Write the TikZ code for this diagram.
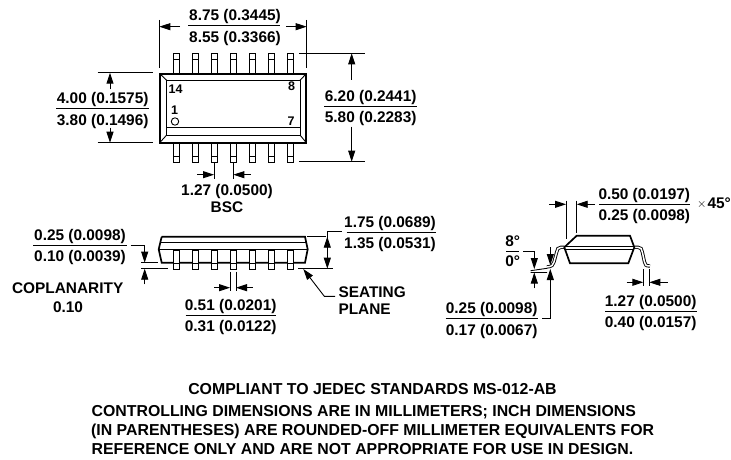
\documentclass[tikz,border=0pt]{standalone}
\usepackage{fontspec}
\setmainfont{Liberation Sans}
\usetikzlibrary{arrows.meta,positioning}

\begin{document}
\begin{tikzpicture}[
    x=1pt, y=-1pt,
    dimtext/.style={font=\fontsize{15.4}{16}\selectfont\bfseries, inner sep=0pt, text height=11pt, text depth=0pt},
    pintext/.style={font=\fontsize{12.5}{13}\selectfont\bfseries, inner sep=0pt, text height=9pt, text depth=0pt},
    notetext/.style={font=\fontsize{15.85}{17}\selectfont\bfseries, inner sep=0pt, text height=11.3pt, text depth=0pt},
    outline/.style={line width=1.7pt, line join=miter},
    thinline/.style={line width=0.9pt},
    arrow/.style={-{Triangle[length=11pt,width=7pt]}, line width=0.9pt},
    lead/.style={double, double distance=1.5pt, line width=0.9pt}
]
    \useasboundingbox (0,0) rectangle (731,460);

    % Top view
    \foreach \px in {176,195,214,233.3,252,271,290.3} {
        \draw[line width=1pt] (\px-3,73.7) -- (\px-3,53.7) -- (\px+3,53.7) -- (\px+3,73.7);
        \draw[line width=0.8pt] (\px-3,59) -- (\px+3,59);
        \draw[line width=1pt] (\px-3,142.7) -- (\px-3,162.3) -- (\px+3,162.3) -- (\px+3,142.7);
        \draw[line width=0.8pt] (\px-3,156.7) -- (\px+3,156.7);
    }
    \draw[outline] (159.7,73.7) rectangle (306.3,142.7);
    \draw[thinline] (166.7,80.3) rectangle (300,135);
    \draw[thinline] (166.7,127.7) -- (300,127.7);
    \draw[thinline] (159.7,73.7) -- (166.7,80.3) (306.3,73.7) -- (300,80.3)
        (159.7,142.7) -- (166.7,135) (306.3,142.7) -- (300,135);
    \draw[thinline] (175,121.5) circle (3.7);
    \node[pintext] (pinfourteen) at (175.5,88.7) {14};
    \node[pintext] (pineight) at (291.5,86.5) {8};
    \node[pintext] (pinone) at (174.5,110) {1};
    \node[pintext] (pinseven) at (291,120.5) {7};

    % Body length
    \node[dimtext] (lengthmax) at (235,15) {8.75 (0.3445)};
    \node[dimtext] (lengthmin) at (235,36.7) {8.55 (0.3366)};
    \draw[thinline] (188,25.3) -- (280,25.3);
    \draw[thinline] (159.3,20) -- (159.3,68) (306.7,20) -- (306.7,68);
    \draw[arrow] (180,26.7) -- (159.3,26.7);
    \draw[arrow] (286,26.7) -- (306.7,26.7);

    % Body width
    \node[dimtext] (widthmax) at (102.7,98.3) {4.00 (0.1575)};
    \node[dimtext] (widthmin) at (102.7,120) {3.80 (0.1496)};
    \draw[thinline] (56,108.3) -- (149.3,108.3);
    \draw[thinline] (97.7,72.7) -- (152.7,72.7) (97.7,142.7) -- (152.7,142.7);
    \draw[arrow] (110,89.3) -- (110,72.7);
    \draw[arrow] (110,127.7) -- (110,142.7);

    % Overall width
    \node[dimtext] (spanmax) at (370.7,96) {6.20 (0.2441)};
    \node[dimtext] (spanmin) at (370.7,117.3) {5.80 (0.2283)};
    \draw[thinline] (324.3,106.7) -- (416.7,106.7);
    \draw[thinline] (299.3,53.3) -- (365,53.3) (299.3,161.7) -- (365,161.7);
    \draw[arrow] (351.7,80) -- (351.7,53.3);
    \draw[arrow] (351.7,126.7) -- (351.7,161.7);

    % Pitch
    \draw[thinline] (214,163.3) -- (214,179) (233.3,163.3) -- (233.3,179);
    \draw[arrow] (197,174.7) -- (214,174.7);
    \draw[arrow] (250.7,174.7) -- (233.3,174.7);
    \node[dimtext] (pitch) at (227,190) {1.27 (0.0500)};
    \node[dimtext, below=5.7pt of pitch] (bsc) {BSC};

    % Side view
    \foreach \px in {176.3,195.3,214.3,233.3,252.3,271.3,290.3} {
        \draw[line width=1.1pt] (\px-3,250) rectangle (\px+3,269.5);
        \draw[line width=0.8pt] (\px-3,263.5) -- (\px+3,263.5);
    }
    \draw[outline] (161.7,236.7) -- (305,236.7) -- (307.7,249.3) -- (305,262.7) -- (293.3,262.7)
        (287.3,262.7) -- (274.3,262.7) (268.3,262.7) -- (255.3,262.7) (249.3,262.7) -- (236.3,262.7)
        (230.3,262.7) -- (217.3,262.7) (211.3,262.7) -- (198.3,262.7) (192.3,262.7) -- (179.3,262.7)
        (173.3,262.7) -- (161.7,262.7) -- (158.7,249.3) -- (161.7,236.7);
    \draw[thinline] (161,242) -- (306,242);
    \draw[line width=1.1pt] (158.7,249.3) -- (307.7,249.3);

    % Coplanarity
    \node[dimtext] (standoffmax) at (80,235) {0.25 (0.0098)};
    \node[dimtext] (standoffmin) at (80,255.7) {0.10 (0.0039)};
    \draw[thinline] (33,245) -- (126.7,245);
    \draw[thinline] (130.7,245) -- (144.7,245);
    \draw[arrow] (144.7,245) -- (144.7,262.7);
    \draw[thinline] (141,262.7) -- (158.3,262.7) (141,268.7) -- (167.7,268.7);
    \draw[arrow] (144.7,284.3) -- (144.7,268.7);
    \node[dimtext] (coplanarity) at (67.7,287.7) {COPLANARITY};
    \node[dimtext] (coplanarval) at (68,306.7) {0.10};

    % Lead width
    \draw[thinline] (230,271.7) -- (230,291) (236,271.7) -- (236,291);
    \draw[arrow] (214,287.7) -- (230,287.7);
    \draw[arrow] (252.7,287.7) -- (236,287.7);
    \node[dimtext] (leadmax) at (230.7,305) {0.51 (0.0201)};
    \node[dimtext] (leadmin) at (230.7,325.7) {0.31 (0.0122)};
    \draw[thinline] (185.7,315.7) -- (275.7,315.7);

    % Height
    \node[dimtext] (heightmax) at (390,221.7) {1.75 (0.0689)};
    \node[dimtext] (heightmin) at (390,243.3) {1.35 (0.0531)};
    \draw[thinline] (346.7,232.3) -- (436,232.3);
    \draw[thinline] (341.7,231.7) -- (327.3,231.7) -- (327.3,240);
    \draw[thinline] (307.3,236.7) -- (326,236.7);
    \draw[thinline] (298.3,268.7) -- (332.7,268.7);
    \draw[{Triangle[length=11pt,width=7pt]}-{Triangle[length=11pt,width=7pt]}, thinline] (327.3,236.7) -- (327.3,268.7);

    % Seating plane
    \node[dimtext, anchor=west] (seating) at (338.3,291.7) {SEATING};
    \node[dimtext, anchor=west] (plane) at (338.3,309) {PLANE};
    \draw[arrow] (335,296.3) -- (324.3,296.3) -- (303.3,269);

    % End view
    \draw[lead] (564.3,247.3) -- (561,247.3) .. controls (558,247.3) and (557.3,249) .. (556.7,252) -- (554,262)
        .. controls (553.3,265) and (552,266.5) .. (547,267);
    \draw[lead] (634.3,247.3) -- (638,247.3) .. controls (641,247.3) and (641.7,249) .. (642.3,252) -- (644.5,262)
        .. controls (645,265) and (646,266) .. (650,266);
    \draw[outline, fill=white] (576.7,235.7) -- (630,235.7) -- (634.3,247.3) -- (628.3,263.3) -- (570,263.3) -- (564.3,247.3) -- cycle;
    \draw[thinline] (564.3,246.7) -- (634.3,246.7);
    \draw[thinline] (564.3,249.3) -- (634.3,249.3);

    % Chamfer
    \draw[thinline] (566,200.7) -- (566,239) (576.7,200.7) -- (576.7,233.3);
    \draw[arrow] (549.3,204.3) -- (566,204.3);
    \draw[arrow] (595,204.3) -- (576.7,204.3);
    \node[dimtext] (chamfermax) at (644.3,194) {0.50 (0.0197)};
    \node[dimtext] (chamfermin) at (644.3,215) {0.25 (0.0098)};
    \draw[thinline] (599,204.3) -- (690,204.3);
    \node[font=\fontsize{13}{14}\selectfont, inner sep=0pt] (times) at (701.7,204.5) {$\times$};
    \node[dimtext, anchor=west] (fortyfive) at (707.4,203) {45°};

    % Foot angle
    \node[dimtext] (anglemax) at (512.7,240.7) {8°};
    \node[dimtext] (anglemin) at (512.7,260.7) {0°};
    \draw[thinline] (506,251) -- (519.3,251);
    \draw[thinline] (523.3,251) -- (534.3,251);
    \draw[arrow] (534.3,251) -- (534.3,269);
    \draw[thinline] (530.7,270.7) -- (547,268.3) (530.7,272.5) -- (547,272.5);
    \draw[arrow] (534.3,288.3) -- (534.3,272.5);

    % Lead thickness
    \draw[arrow] (550.3,247.3) -- (550.3,265);
    \draw[arrow] (542.3,318.3) -- (550.3,318.3) -- (550.3,269);
    \node[dimtext] (thickmax) at (491.7,308.3) {0.25 (0.0098)};
    \node[dimtext] (thickmin) at (491.7,330) {0.17 (0.0067)};
    \draw[thinline] (445.7,318.3) -- (538.3,318.3);

    % Foot length
    \draw[thinline] (643.3,269.3) -- (643.3,286) (649.3,269.3) -- (649.3,286);
    \draw[arrow] (626.7,282.3) -- (643.3,282.3);
    \draw[arrow] (667.7,282.3) -- (649.3,282.3);
    \node[dimtext] (footmax) at (650.7,301) {1.27 (0.0500)};
    \node[dimtext] (footmin) at (650.7,322.3) {0.40 (0.0157)};
    \draw[thinline] (605,311.3) -- (696.7,311.3);

    % Notes
    \node[notetext] (compliant) at (372.5,389) {COMPLIANT TO JEDEC STANDARDS MS-012-AB};
    \node[notetext, anchor=west] (noteone) at (91.5,410.5) {CONTROLLING DIMENSIONS ARE IN MILLIMETERS; INCH DIMENSIONS};
    \node[notetext, anchor=west] (notetwo) at (91,430) {(IN PARENTHESES) ARE ROUNDED-OFF MILLIMETER EQUIVALENTS FOR};
    \node[notetext, anchor=west] (notethree) at (91.5,449.3) {REFERENCE ONLY AND ARE NOT APPROPRIATE FOR USE IN DESIGN.};
\end{tikzpicture}
\end{document}
